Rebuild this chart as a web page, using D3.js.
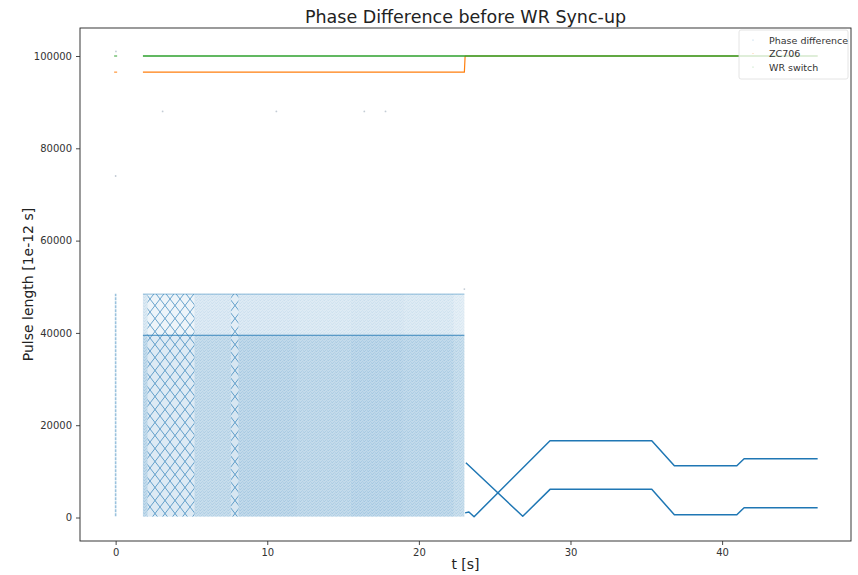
<!DOCTYPE html>
<html><head><meta charset="utf-8">
<script src="https://cdn.jsdelivr.net/npm/d3@7"></script>
<style>
body{margin:0;background:#fff;}
text{font-family:"DejaVu Sans",sans-serif;}
</style></head>
<body><svg id="c" width="858" height="575"></svg>
<script>
// ---- data ----
const xTicks = [0, 10, 20, 30, 40];
const yTicks = [0, 20000, 40000, 60000, 80000, 100000];
const seriesNames = ["Phase difference", "ZC706", "WR switch"];
const seriesColors = ["#1f77b4", "#ff7f0e", "#2ca02c"];

// WR switch (green)
const wrT = [1.8, 46.3];
const wrV = [100000, 100000];
// ZC706 (orange)
const zcT = [1.8, 23.0, 23.05, 46.3];
const zcV = [96500, 96500, 100000, 100000];
// isolated points near t=0
const isoT = [0, 0];
const isoV = [100000, 96500];
const isoS = [2, 1];
// Phase difference: two traces after sync start
const phA_T = [23.1, 26.85, 28.65, 35.36, 36.85, 40.97, 41.45, 46.3];
const phA_V = [11870, 260, 6100, 6100, 600, 600, 2120, 2120];
const phB_T = [23.05, 23.3, 23.64, 28.65, 35.36, 36.85, 40.97, 41.45, 46.3];
const phB_V = [1000, 1200, 170, 16640, 16640, 11230, 11230, 12750, 12750];
// Phase difference: dense scatter region (bands) before t=23
const bandStart = [1.8, 2.1, 5.2, 7.6, 8.1, 12.0, 15.5, 19.0, 22.3];
const bandEnd   = [2.1, 5.2, 7.6, 8.1, 12.0, 15.5, 19.0, 22.3, 23.0];
const bandKind  = ["grain","lattice","grain","lattice","grain","grain","grain","grain","grain"];
const bandLow   = [0.30, 0.17, 0.28, 0.20, 0.31, 0.29, 0.32, 0.30, 0.26];
const bandHigh  = [0.18, 0.09, 0.17, 0.14, 0.17, 0.16, 0.18, 0.16, 0.13];
const denseMin = 200, denseSplit = 39500, denseMax = 48400;
// column of samples at t=0
const colT = [0, 0];
const colV = [300, 48500];
// stray samples
const strayT = [0, 0.02, 3.1, 10.6, 16.4, 17.8, 23.0];
const strayV = [74000, 101000, 88000, 88000, 88000, 88000, 49500];

// ---- layout ----
const svg = d3.select("#c");
const L = 80, R = 851, T = 28, B = 541;
const x = d3.scaleLinear().domain([-2.35, 48.5]).range([L, R]);
const y = d3.scaleLinear().domain([-5090, 106070]).range([B, T]);

const defs = svg.append("defs");
defs.append("clipPath").attr("id","pc").append("rect")
  .attr("x",L).attr("y",T).attr("width",R-L).attr("height",B-T);
// texture patterns for the dense scatter
const pgrain = defs.append("pattern").attr("id","grain").attr("patternUnits","userSpaceOnUse")
  .attr("width",4).attr("height",3);
[[0,0,0.9],[2,1,0.6],[1,2,0.75],[3,0,0.4],[3,2,0.5]].forEach(p=>{
  pgrain.append("rect").attr("x",p[0]).attr("y",p[1]).attr("width",1).attr("height",1)
    .attr("fill",seriesColors[0]).attr("fill-opacity",p[2]);
});
const plat = defs.append("pattern").attr("id","lattice").attr("patternUnits","userSpaceOnUse")
  .attr("width",10).attr("height",13);
plat.append("path").attr("d","M0,0 L10,13 M10,0 L0,13").attr("stroke",seriesColors[0])
  .attr("stroke-width",1).attr("stroke-opacity",0.8).attr("fill","none");

const g = svg.append("g");
const pg = g.append("g").attr("clip-path","url(#pc)");

// dense bands
bandStart.forEach((s,i)=>{
  const parts = [[denseSplit, denseMin, bandLow[i]], [denseMax, denseSplit, bandHigh[i]]];
  parts.forEach(p=>{
    const rx = x(s), rw = x(bandEnd[i]) - x(s), ry = y(p[0]), rh = y(p[1]) - y(p[0]);
    pg.append("rect").attr("x",rx).attr("width",rw).attr("y",ry).attr("height",rh)
      .attr("fill",seriesColors[0]).attr("fill-opacity",p[2]*0.9);
    pg.append("rect").attr("x",rx).attr("width",rw).attr("y",ry).attr("height",rh)
      .attr("fill",`url(#${bandKind[i]})`).attr("opacity",bandKind[i]==="lattice"?0.8:p[2]*0.6);
  });
});
// horizontal edges of dense region
[denseSplit, denseMax].forEach((v,i)=>{
  pg.append("line").attr("x1",x(bandStart[0])).attr("x2",x(bandEnd[bandEnd.length-1]))
    .attr("y1",y(v)).attr("y2",y(v)).attr("stroke",seriesColors[0])
    .attr("stroke-opacity", i===0?0.85:0.4).attr("stroke-width",1.1);
});
// column at t=0
pg.append("line").attr("x1",x(colT[0])).attr("x2",x(colT[1]))
  .attr("y1",y(colV[0])).attr("y2",y(colV[1]))
  .attr("stroke",seriesColors[0]).attr("stroke-opacity",0.45).attr("stroke-width",1.6)
  .attr("stroke-dasharray","3,1");
// stray points
strayT.forEach((t,i)=>{
  pg.append("circle").attr("cx",x(t)).attr("cy",y(strayV[i])).attr("r",0.9)
    .attr("fill", "#9aa9b8").attr("fill-opacity",0.6);
});

const line = d3.line().x(d=>x(d[0])).y(d=>y(d[1]));
function path(ts, vs, color, w){
  pg.append("path").attr("d", line(ts.map((t,i)=>[t,vs[i]])))
    .attr("fill","none").attr("stroke",color).attr("stroke-width",w)
    .attr("stroke-linejoin","round");
}
path(phA_T, phA_V, seriesColors[0], 1.5);
path(phB_T, phB_V, seriesColors[0], 1.5);
path(zcT, zcV, seriesColors[1], 1.2);
path(wrT, wrV, seriesColors[2], 1.4);
isoT.forEach((t,i)=>{
  pg.append("rect").attr("x",x(t)-1.5).attr("y",y(isoV[i])-0.7).attr("width",3).attr("height",1.4)
    .attr("fill",seriesColors[isoS[i]]).attr("fill-opacity",0.7);
});

// frame
g.append("rect").attr("x",L).attr("y",T).attr("width",R-L).attr("height",B-T)
  .attr("fill","none").attr("stroke","#222").attr("stroke-width",0.9);

// axes
const xa = g.append("g").attr("transform",`translate(0,${B})`)
  .call(d3.axisBottom(x).tickValues(xTicks).tickSize(4).tickPadding(4).tickFormat(d3.format("d")));
const ya = g.append("g").attr("transform",`translate(${L},0)`)
  .call(d3.axisLeft(y).tickValues(yTicks).tickSize(4).tickPadding(4).tickFormat(d3.format("d")));
[xa,ya].forEach(a=>{
  a.select(".domain").remove();
  a.selectAll("line").attr("stroke","#333").attr("stroke-width",0.9);
  a.selectAll("text").attr("fill","#333").style("font-size","10px").style("font-family","DejaVu Sans");
});

// titles
svg.append("text").attr("x",(L+R)/2).attr("y",23).attr("text-anchor","middle")
  .style("font-size","17.5px").attr("fill","#222").text("Phase Difference before WR Sync-up");
svg.append("text").attr("x",(L+R)/2).attr("y",569).attr("text-anchor","middle")
  .style("font-size","14px").attr("fill","#222").text("t [s]");
svg.append("text").attr("transform",`translate(33,${(T+B)/2}) rotate(-90)`).attr("text-anchor","middle")
  .style("font-size","14px").attr("fill","#222").text("Pulse length [1e-12 s]");

// legend
const lg = svg.append("g");
lg.append("rect").attr("x",739).attr("y",30).attr("width",109).attr("height",49).attr("rx",2)
  .attr("fill","#fff").attr("fill-opacity",0.8).attr("stroke","#ddd").attr("stroke-width",0.8);
seriesNames.forEach((n,i)=>{
  const yy = 40 + i*13.5;
  lg.append("circle").attr("cx",753).attr("cy",yy).attr("r",0.6).attr("fill",seriesColors[i]).attr("fill-opacity",0.4);
  lg.append("text").attr("x",769).attr("y",yy+3.5).style("font-size","9.5px").attr("fill","#333").text(n);
});
</script></body></html>
